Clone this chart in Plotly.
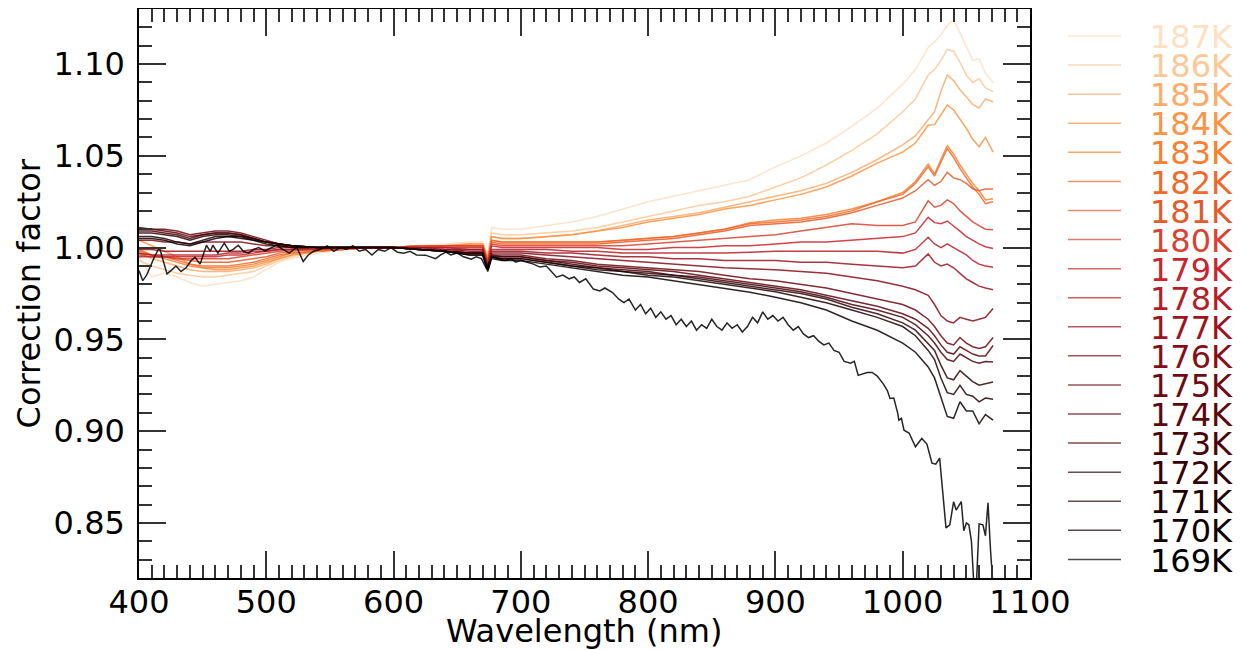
import plotly.graph_objects as go

# wavelength grid (nm) shared by the 170K-187K curves
wavelength = [400, 410, 420, 430, 440, 450, 460, 470, 480, 490, 500, 510, 520,
              540, 560, 580, 600, 620, 640, 660,
              670, 674, 677, 685,
              700, 720, 740, 760, 780, 800, 820, 840, 860, 880, 900, 920, 940, 960, 980, 1000,
              1010, 1020, 1025, 1030, 1035, 1040, 1045, 1050, 1055, 1060, 1065, 1071]

cf_187 = [0.995, 0.984, 0.986, 0.984, 0.981, 0.979, 0.980, 0.981, 0.982, 0.984, 0.988, 0.992, 0.994,
          0.997, 0.999, 1.000, 1.000, 1.001, 1.002, 1.003,
          1.003, 0.996, 1.011, 1.010,
          1.010, 1.012, 1.014, 1.017, 1.021, 1.025, 1.028, 1.031, 1.034, 1.037, 1.044, 1.050, 1.057, 1.066, 1.076, 1.089,
          1.097, 1.109, 1.112, 1.116, 1.121, 1.124, 1.117, 1.109, 1.102, 1.103, 1.095, 1.090]
cf_186 = [0.993, 0.990, 0.988, 0.986, 0.985, 0.984, 0.984, 0.985, 0.986, 0.987, 0.990, 0.993, 0.995,
          0.998, 0.999, 1.000, 1.000, 1.001, 1.001, 1.002,
          1.002, 0.995, 1.008, 1.007,
          1.007, 1.008, 1.009, 1.011, 1.014, 1.017, 1.020, 1.023, 1.025, 1.028, 1.033, 1.038, 1.045, 1.053, 1.062, 1.074,
          1.081, 1.094, 1.097, 1.102, 1.108, 1.107, 1.101, 1.094, 1.090, 1.092, 1.087, 1.085]
cf_185 = [0.997, 0.994, 0.992, 0.990, 0.988, 0.987, 0.987, 0.987, 0.988, 0.989, 0.991, 0.994, 0.996,
          0.998, 0.999, 1.000, 1.000, 1.001, 1.001, 1.002,
          1.002, 0.994, 1.006, 1.005,
          1.005, 1.006, 1.007, 1.009, 1.012, 1.015, 1.017, 1.019, 1.022, 1.025, 1.028, 1.031, 1.035, 1.041, 1.048, 1.056,
          1.061, 1.070, 1.074, 1.085, 1.094, 1.091, 1.086, 1.082, 1.078, 1.076, 1.081, 1.0795]
cf_184 = [1.004, 1.001, 0.998, 0.995, 0.991, 0.989, 0.988, 0.988, 0.989, 0.990, 0.992, 0.994, 0.996,
          0.998, 0.999, 1.000, 1.000, 1.001, 1.001, 1.002,
          1.002, 0.994, 1.006, 1.005,
          1.005, 1.006, 1.007, 1.009, 1.011, 1.014, 1.016, 1.018, 1.021, 1.023, 1.026, 1.029, 1.033, 1.039, 1.046, 1.052,
          1.057, 1.0667, 1.067, 1.072, 1.0777, 1.075, 1.070, 1.065, 1.059, 1.055, 1.060, 1.052]
cf_183 = [0.999, 0.996, 0.994, 0.992, 0.990, 0.989, 0.989, 0.989, 0.990, 0.991, 0.993, 0.995, 0.997,
          0.998, 0.999, 1.000, 1.000, 1.001, 1.001, 1.001,
          1.001, 0.993, 1.004, 1.003,
          1.003, 1.003, 1.003, 1.003, 1.004, 1.005, 1.006, 1.008, 1.010, 1.0135, 1.015, 1.016, 1.018, 1.021, 1.025, 1.030,
          1.036, 1.0455, 1.040, 1.048, 1.0555, 1.051, 1.045, 1.040, 1.035, 1.031, 1.026, 1.0266]
cf_182 = [0.998, 0.996, 0.995, 0.993, 0.991, 0.990, 0.990, 0.990, 0.991, 0.992, 0.994, 0.996, 0.997,
          0.998, 0.999, 1.000, 1.000, 1.001, 1.001, 1.001,
          1.001, 0.993, 1.004, 1.003,
          1.003, 1.003, 1.003, 1.003, 1.004, 1.005, 1.006, 1.008, 1.010, 1.013, 1.014, 1.015, 1.017, 1.020, 1.025, 1.029,
          1.035, 1.044, 1.039, 1.047, 1.054, 1.049, 1.043, 1.038, 1.033, 1.029, 1.024, 1.025]
cf_181 = [0.997, 0.996, 0.995, 0.994, 0.993, 0.992, 0.992, 0.992, 0.993, 0.994, 0.995, 0.997, 0.998,
          0.999, 0.999, 1.000, 1.000, 1.001, 1.001, 1.001,
          1.001, 0.992, 1.003, 1.002,
          1.002, 1.002, 1.002, 1.002, 1.003, 1.004, 1.005, 1.007, 1.009, 1.012, 1.013, 1.014, 1.016, 1.019, 1.023, 1.027,
          1.031, 1.037, 1.034, 1.036, 1.041, 1.038, 1.037, 1.035, 1.032, 1.031, 1.032, 1.032]
cf_180 = [0.996, 0.995, 0.995, 0.994, 0.994, 0.994, 0.994, 0.994, 0.995, 0.996, 0.997, 0.998, 0.999,
          0.999, 1.000, 1.000, 1.000, 1.000, 1.001, 1.001,
          1.001, 0.992, 1.002, 1.001,
          1.001, 1.001, 1.001, 1.001, 1.001, 1.002, 1.003, 1.004, 1.005, 1.0056, 1.007, 1.009, 1.011, 1.013, 1.012, 1.012,
          1.014, 1.0255, 1.022, 1.023, 1.026, 1.024, 1.020, 1.017, 1.014, 1.012, 1.010, 1.0097]
cf_179 = [0.995, 0.995, 0.995, 0.995, 0.995, 0.995, 0.995, 0.996, 0.996, 0.997, 0.998, 0.999, 0.999,
          0.999, 1.000, 1.000, 1.000, 1.000, 1.000, 1.000,
          1.000, 0.991, 1.001, 1.000,
          1.000, 1.000, 1.000, 1.000, 0.999, 0.999, 1.000, 1.000, 1.001, 1.001, 1.002, 1.003, 1.003, 1.004, 1.005, 1.006,
          1.008, 1.0165, 1.0136, 1.013, 1.0145, 1.012, 1.009, 1.006, 1.004, 1.002, 1.0005, 0.9995]
cf_178 = [0.997, 0.996, 0.996, 0.996, 0.996, 0.996, 0.996, 0.997, 0.997, 0.998, 0.998, 0.999, 0.999,
          1.000, 1.000, 1.000, 1.000, 1.000, 1.000, 0.999,
          0.999, 0.990, 0.999, 0.999,
          0.999, 0.999, 0.998, 0.998, 0.997, 0.997, 0.997, 0.997, 0.997, 0.9975, 0.998, 0.998, 0.998, 0.998, 0.998, 0.997,
          0.999, 1.0056, 1.002, 1.000, 1.002, 1.000, 0.998, 0.996, 0.993, 0.991, 0.990, 0.9893]
cf_177 = [0.999, 0.999, 0.998, 0.998, 0.998, 0.998, 0.998, 0.998, 0.998, 0.999, 0.999, 1.000, 1.000,
          1.000, 1.000, 1.000, 1.000, 1.000, 0.999, 0.999,
          0.999, 0.990, 0.998, 0.998,
          0.998, 0.997, 0.997, 0.996, 0.995, 0.995, 0.994, 0.994, 0.993, 0.993, 0.993, 0.992, 0.992, 0.991, 0.990, 0.989,
          0.990, 0.9966, 0.992, 0.990, 0.991, 0.989, 0.986, 0.983, 0.981, 0.979, 0.978, 0.977]
cf_176 = [1.004, 1.004, 1.003, 1.003, 1.002, 1.003, 1.003, 1.003, 1.003, 1.002, 1.001, 1.001, 1.000,
          1.000, 1.000, 1.000, 1.000, 0.999, 0.999, 0.998,
          0.998, 0.989, 0.997, 0.997,
          0.997, 0.996, 0.995, 0.994, 0.993, 0.992, 0.991, 0.990, 0.989, 0.9885, 0.988, 0.987, 0.986, 0.984, 0.982, 0.979,
          0.977, 0.974, 0.969, 0.963, 0.960, 0.959, 0.962, 0.961, 0.960, 0.961, 0.962, 0.9668]
cf_175 = [1.011, 1.010, 1.010, 1.009, 1.007, 1.008, 1.009, 1.009, 1.008, 1.006, 1.004, 1.002, 1.001,
          1.000, 1.000, 1.000, 1.000, 0.999, 0.998, 0.997,
          0.997, 0.988, 0.996, 0.996,
          0.996, 0.994, 0.993, 0.991, 0.990, 0.989, 0.988, 0.987, 0.985, 0.983, 0.982, 0.980, 0.978, 0.975, 0.972, 0.969,
          0.966, 0.961, 0.957, 0.952, 0.948, 0.947, 0.951, 0.948, 0.946, 0.945, 0.946, 0.951]
cf_174 = [1.010, 1.010, 1.009, 1.008, 1.006, 1.007, 1.008, 1.008, 1.007, 1.005, 1.003, 1.002, 1.001,
          1.000, 1.000, 1.000, 1.000, 0.999, 0.998, 0.997,
          0.997, 0.988, 0.996, 0.995,
          0.995, 0.993, 0.992, 0.990, 0.989, 0.988, 0.987, 0.985, 0.983, 0.981, 0.979, 0.977, 0.974, 0.971, 0.968, 0.964,
          0.961, 0.956, 0.952, 0.947, 0.943, 0.942, 0.946, 0.944, 0.942, 0.941, 0.941, 0.9467]
cf_173 = [1.009, 1.009, 1.008, 1.007, 1.005, 1.007, 1.008, 1.008, 1.007, 1.005, 1.003, 1.002, 1.001,
          1.000, 1.000, 1.000, 1.000, 0.999, 0.998, 0.997,
          0.997, 0.988, 0.995, 0.995,
          0.995, 0.993, 0.991, 0.989, 0.988, 0.987, 0.985, 0.984, 0.982, 0.980, 0.978, 0.976, 0.973, 0.969, 0.966, 0.962,
          0.958, 0.952, 0.948, 0.943, 0.939, 0.938, 0.942, 0.940, 0.938, 0.937, 0.938, 0.9377]
cf_172 = [1.008, 1.008, 1.007, 1.006, 1.004, 1.006, 1.007, 1.007, 1.006, 1.005, 1.003, 1.002, 1.001,
          1.000, 1.000, 1.000, 1.000, 0.999, 0.998, 0.997,
          0.997, 0.988, 0.995, 0.994,
          0.994, 0.992, 0.990, 0.989, 0.987, 0.986, 0.985, 0.983, 0.981, 0.979, 0.977, 0.975, 0.972, 0.9675, 0.964, 0.959,
          0.955, 0.948, 0.944, 0.936, 0.929, 0.928, 0.933, 0.930, 0.927, 0.925, 0.926, 0.9268]
cf_171 = [1.006, 1.006, 1.005, 1.003, 1.002, 1.004, 1.006, 1.006, 1.006, 1.004, 1.003, 1.002, 1.001,
          1.000, 1.000, 1.000, 1.000, 0.999, 0.998, 0.996,
          0.996, 0.988, 0.995, 0.994,
          0.994, 0.992, 0.990, 0.988, 0.987, 0.985, 0.984, 0.982, 0.980, 0.978, 0.976, 0.973, 0.970, 0.966, 0.962, 0.957,
          0.952, 0.944, 0.939, 0.929, 0.921, 0.920, 0.925, 0.920, 0.919, 0.916, 0.918, 0.9174]
cf_170 = [1.005, 1.005, 1.004, 1.002, 1.001, 1.003, 1.005, 1.006, 1.005, 1.004, 1.002, 1.001, 1.000,
          1.000, 1.000, 1.000, 1.000, 0.999, 0.998, 0.996,
          0.996, 0.987, 0.994, 0.993,
          0.993, 0.991, 0.989, 0.987, 0.985, 0.984, 0.982, 0.980, 0.978, 0.9757, 0.973, 0.970, 0.966, 0.960, 0.955, 0.948,
          0.943, 0.935, 0.929, 0.918, 0.908, 0.907, 0.916, 0.911, 0.911, 0.904, 0.909, 0.906]

# the 169K curve is much noisier, so it gets its own denser grid
wavelength_169 = [400, 403, 406, 409, 412, 416, 419, 422, 426, 429, 433, 437, 441, 444, 448, 453, 456, 458,
                  462, 467, 471, 474, 478, 482, 486, 490, 494, 499, 504, 508, 513, 518, 524, 529, 533, 537,
                  542, 548, 553, 558, 563, 568, 573, 578, 583, 588, 593, 598, 603, 608, 613, 618, 625, 629,
                  633, 637, 641, 645, 650, 655, 661, 665, 669, 673, 677, 683, 688, 692, 696, 700, 705, 710,
                  715, 720, 724, 728, 733, 738, 742, 746, 751, 755, 757, 762, 766, 772, 777, 781, 785, 790,
                  794, 798, 802, 806, 810, 814, 818, 822, 826, 830, 834, 838, 842, 846, 850, 854, 858, 862,
                  866, 870, 874, 878, 882, 886, 890, 894, 898, 902, 906, 910, 914, 918, 922, 926, 930, 934,
                  938, 942, 946, 950, 954, 959, 962, 965, 968, 972, 976, 980, 985, 988, 990, 993, 996, 997,
                  999, 1001, 1005, 1010, 1015, 1019, 1023, 1026, 1029, 1032, 1034, 1037, 1040, 1042, 1046,
                  1048, 1050, 1052, 1054, 1056, 1058, 1060, 1063, 1065, 1067, 1069, 1071]
cf_169 = [0.9875, 0.982, 0.985, 0.990, 0.9947, 1.0002, 0.993, 0.9857, 0.988, 0.990, 0.987, 0.989, 0.993, 0.9947,
          0.991, 1.0013, 0.998, 1.0013, 0.997, 1.0024, 0.998, 0.999, 1.0013, 0.998, 0.997, 0.999, 1.000, 0.9982,
          1.000, 1.0013, 0.999, 0.997, 1.0002, 0.9924, 0.996, 0.998, 0.999, 1.001, 0.998, 1.000, 0.999, 1.001,
          0.998, 0.999, 0.996, 0.999, 0.998, 1.000, 0.9975, 0.997, 0.998, 0.996, 0.9959, 0.995, 0.994, 0.996,
          0.9975, 0.996, 0.997, 0.995, 0.9937, 0.995, 0.994, 0.9886, 0.995, 0.9937, 0.993, 0.994, 0.9921, 0.993,
          0.992, 0.991, 0.9894, 0.990, 0.987, 0.9839, 0.985, 0.983, 0.984, 0.981, 0.983, 0.979, 0.9774, 0.9764,
          0.978, 0.9755, 0.9719, 0.970, 0.972, 0.966, 0.969, 0.964, 0.967, 0.962, 0.965, 0.961, 0.963, 0.958,
          0.961, 0.957, 0.960, 0.955, 0.958, 0.956, 0.961, 0.957, 0.955, 0.959, 0.956, 0.958, 0.954, 0.957,
          0.962, 0.959, 0.965, 0.961, 0.963, 0.960, 0.962, 0.958, 0.955, 0.957, 0.953, 0.951, 0.952, 0.949,
          0.947, 0.948, 0.944, 0.943, 0.938, 0.937, 0.938, 0.9304, 0.931, 0.932, 0.932, 0.930, 0.9255, 0.922,
          0.9178, 0.918, 0.910, 0.906, 0.907, 0.9005, 0.899, 0.8915, 0.896, 0.893, 0.8826, 0.882, 0.8853, 0.862,
          0.8473, 0.849, 0.8616, 0.857, 0.8616, 0.8458, 0.850, 0.849, 0.840, 0.815, 0.818, 0.8495, 0.849, 0.843,
          0.861, 0.835, 0.815]

temps = [187, 186, 185, 184, 183, 182, 181, 180, 179, 178, 177, 176, 175, 174, 173, 172, 171, 170, 169]
colors = ["#fee0c4", "#fdc898", "#fdab6a", "#fd9445", "#f98030", "#f06a2a", "#e65a2a", "#d94230",
          "#c8252c", "#b51e28", "#9c1420", "#840f19", "#6e0a12", "#5c060e", "#48040a", "#320307",
          "#1e0204", "#0c0000", "#000000"]
curves = [cf_187, cf_186, cf_185, cf_184, cf_183, cf_182, cf_181, cf_180, cf_179, cf_178,
          cf_177, cf_176, cf_175, cf_174, cf_173, cf_172, cf_171, cf_170, cf_169]

FONT = "DejaVu Sans"

fig = go.Figure()
for t, c, y in zip(temps, colors, curves):
    x = wavelength_169 if t == 169 else wavelength
    fig.add_trace(go.Scatter(x=x, y=y, mode="lines", name=f"{t}K",
                             line=dict(color=c, width=1.5), opacity=0.85,
                             showlegend=False))

# hand-made legend: sample line + coloured label per temperature
row_top, row_step = 0.9525, 0.0511
for i, (t, c) in enumerate(zip(temps, colors)):
    yy = row_top - i * row_step
    fig.add_shape(type="line", xref="paper", yref="paper", x0=1.0426, x1=1.1021, y0=yy, y1=yy,
                  line=dict(color=c, width=1.5), opacity=0.7)
    fig.add_annotation(xref="paper", yref="paper", x=1.1324, y=yy - 0.002, text=f"{t}K",
                       showarrow=False, xanchor="left", yanchor="middle",
                       font=dict(family=FONT, size=32, color=c))

# axis titles
fig.add_annotation(xref="paper", yref="paper", x=0.499, y=-0.093, text="Wavelength (nm)",
                   showarrow=False, xanchor="center", yanchor="middle",
                   font=dict(family=FONT, size=32, color="black"))
fig.add_annotation(xref="paper", yref="paper", x=-0.1235, y=0.5, text="Correction factor",
                   showarrow=False, xanchor="center", yanchor="middle", textangle=-90,
                   font=dict(family=FONT, size=32, color="black"))

axis_common = dict(
    showline=True, linecolor="black", linewidth=1.5, mirror="ticks",
    ticks="inside", ticklen=27, tickwidth=1.5, tickcolor="#333333",
    showgrid=False, zeroline=False,
    tickfont=dict(family=FONT, size=32, color="black"),
)

fig.update_xaxes(range=[400, 1100], dtick=100, tick0=400, ticklabelstandoff=-5,
                 minor=dict(dtick=10, ticks="inside", ticklen=13, tickwidth=1.5, tickcolor="#333333", showgrid=False),
                 **axis_common)
fig.update_yaxes(range=[0.82, 1.13], dtick=0.05, tick0=0.85, tickformat=".2f", ticklabelstandoff=6,
                 minor=dict(dtick=0.01, ticks="inside", ticklen=13, tickwidth=1.5, tickcolor="#333333", showgrid=False),
                 **axis_common)

# the page body adds an 8px offset, so the margins are shifted to keep the axes where they belong
fig.update_layout(
    width=1249, height=650,
    margin=dict(l=131, r=227, t=1, b=80, autoexpand=False),
    plot_bgcolor="white", paper_bgcolor="white",
    font=dict(family=FONT),
)

fig.write_html("out.html")
